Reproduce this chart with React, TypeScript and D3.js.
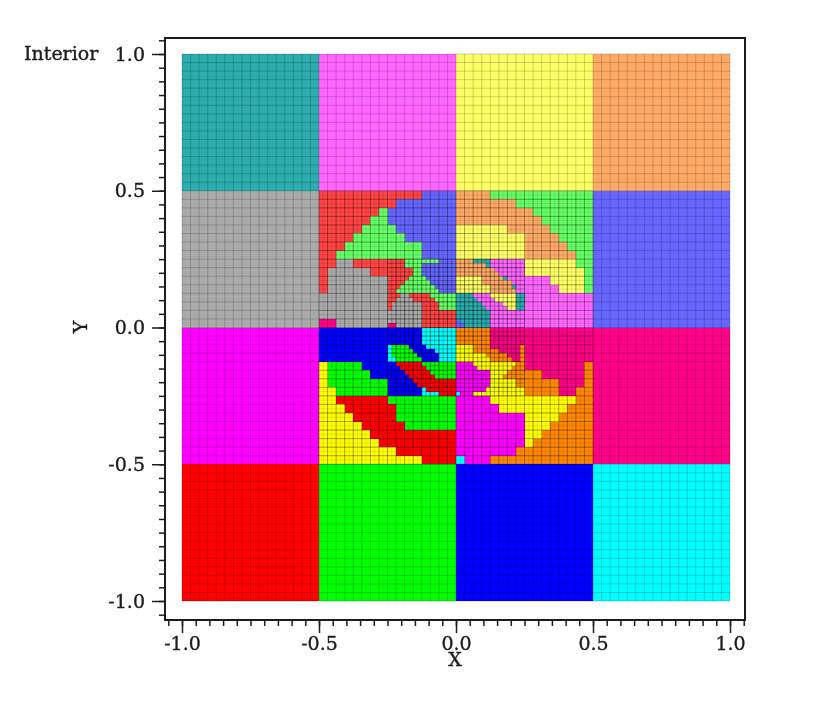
import React, { useEffect, useRef } from 'react';
import * as d3 from 'd3';

// domain colours, light and saturated sets
const palette: Record<string, string> = {
  R: '#ff0000', G: '#00ff00', B: '#0000ff', C: '#00ffff',
  M: '#ff00ff', H: '#ff0088', Y: '#ffff00', O: '#ff8800',
  r: '#ff4444', g: '#66ff66', b: '#6666ff', t: '#2cacac',
  p: '#ff66ff', y: '#ffff66', o: '#ffaa66', a: '#aaaaaa',
};

// big 0.5 x 0.5 blocks, top row first ('.' is the refined middle)
const outerBlocks = ['tpyo', 'a..b', 'M..H', 'RGBC'];

// refined middle, one row per 1/64, run-length coded, top to bottom
const topLeft = [
  'r24b8', 'r24b8', 'r18b14', 'r18b14', 'r14g2b16', 'r14g2b16', 'r12g4b16', 'r12g4b16',
  'r10g8b14', 'r10g8b14', 'r8g12b12', 'r8g12b12', 'r6g18b8', 'r6g18b8', 'r4g20b8', 'r4g20b8',
  'r4a4r12g8b4', 'r4a4r12g4b8', 'r2a10r10g2b8', 'r2a10r10g2b8', 'r2a14r5g4b7', 'r2a14r4g6b6', 'r2a14r3g8b5', 'r2a14r2g10b4',
  'a16r3a2r5g6', 'a16r2a4r5g5', 'a16r1a7r4g4', 'a16r1a7r4g4', 'a24r8', 'a24r8', 'H4a20r8', 'H4a12H2a6r8',
];
const topRight = [
  'o8g24', 'o8g24', 'o14g18', 'o14g18', 'o18g14', 'o18g14', 'o20g12', 'o20g12',
  'y12o10g10', 'y12o10g10', 'y16o8g8', 'y16o8g8', 'y16o10g6', 'y16o10g6', 'y16o12g4', 'y16o12g4',
  'o4t4p8y12g4', 'o7t1p8y12g4', 'o9p7y14g2', 'o10p6y14g2', 'y6o5t1p10y8g2', 'y6o7p9y8g2', 'y8o5t1p10y6g2', 'y8o6p10y6g2',
  't4p4y6t2p16', 't5p4y5t2p16', 't6p5y3t2p16', 't7p5y2t2p16', 't8p24', 't8p24', 'b1t7p24', 'b2t6p24',
];
const bottomLeft = [
  'B24C8', 'B24C8', 'B24C8', 'B24C8', 'B16C1G4B4C7', 'B16C1G5B5C5', 'B16C1G6B5C4', 'B16C2G6B4C4',
  'Y2G8B8R6G8', 'Y2G8B9R6G7', 'Y2G10B8R6G6', 'Y2G10B9R6G5', 'Y2G14B6R10', 'Y2G14B7R9', 'Y4G12B8C1R7', 'Y4G12B8C4R4',
  'Y4R12G16', 'Y4R12G16', 'Y6R12G14', 'Y6R12G14', 'Y8R10G14', 'Y8R10G14', 'Y10R10G12', 'Y10R10G12',
  'Y12R20', 'Y12R20', 'Y14R18', 'Y14R18', 'Y18R14', 'Y18R14', 'Y24R8', 'Y24R8',
];
const bottomRight = [
  'O8H24', 'O8H24', 'O8H24', 'O8H24', 'Y4O4H7O1H16', 'Y4O6H5O1H16', 'Y7O5H3O1H16', 'Y8O5H2O1H16',
  'M4Y10O2H14O2', 'M5Y8O3H14O2', 'M8Y4O8H10O2', 'M8Y3O9H10O2', 'M8Y6O10H6O2', 'M8Y6O10H6O2', 'M7Y9O8H4O4', 'C1M3Y12O8H4O4',
  'M8Y20O4', 'M8Y20O4', 'M10Y16O6', 'M10Y16O6', 'M16Y8O8', 'M16Y8O8', 'M16Y6O10', 'M16Y6O10',
  'M16Y4O12', 'M16Y4O12', 'M16Y2O14', 'M16Y2O14', 'M14O18', 'M14O18', 'C2M6O24', 'C2M6O24',
];

const majorTicks = [-1, -0.5, 0, 0.5, 1];
const tickLabels = ['-1.0', '-0.5', '0.0', '0.5', '1.0'];
const minorTicks = d3.range(-21, 22).map((i) => i * 0.05);

// mesh layers: half-extent, line count per unit, strength
const meshExtents = [1, 0.5, 0.5, 0.25];
const meshDensity = [32, 32, 64, 64];
const meshOpacity = [0.18, 0.12, 0.09, 0.2];

const width = 830;
const height = 728;
const frame = { left: 165, right: 745, top: 38, bottom: 620 };
const fontFamily = '"DejaVu Serif", serif';
const inkColor = '#1c1c1c';

const x = d3.scaleLinear().domain([-1, 1]).range([182, 730]);
const y = d3.scaleLinear().domain([-1, 1]).range([601, 54]);

// 'r24b8' -> [{ key:'r', start:0, len:24 }, { key:'b', start:24, len:8 }]
const parseRuns = (row: string) => {
  let start = 0;
  return Array.from(row.matchAll(/([A-Za-z])(\d+)/g)).map((m) => {
    const run = { key: m[1], start, len: +m[2] };
    start += run.len;
    return run;
  });
};

// glue the four quadrants into 64 rows
const middleRows = [
  ...topLeft.map((row, i) => row + topRight[i]),
  ...bottomLeft.map((row, i) => row + bottomRight[i]),
];

const App = () => {
  const axesRef = useRef<SVGGElement>(null);

  useEffect(() => {
    const g = d3.select(axesRef.current);
    g.selectAll('*').remove();

    const label = (d: number) => tickLabels[majorTicks.indexOf(d)];

    const leftMinor = g.append('g').attr('transform', `translate(${frame.left},0)`)
      .call(d3.axisLeft(y).tickValues(minorTicks).tickSize(6).tickSizeOuter(0).tickFormat(() => ''));
    const leftMajor = g.append('g').attr('transform', `translate(${frame.left},0)`)
      .call(d3.axisLeft(y).tickValues(majorTicks).tickSize(13).tickSizeOuter(0).tickPadding(7).tickFormat(label as any));
    const bottomMinor = g.append('g').attr('transform', `translate(0,${frame.bottom})`)
      .call(d3.axisBottom(x).tickValues(minorTicks).tickSize(6).tickSizeOuter(0).tickFormat(() => ''));
    const bottomMajor = g.append('g').attr('transform', `translate(0,${frame.bottom})`)
      .call(d3.axisBottom(x).tickValues(majorTicks).tickSize(13).tickSizeOuter(0).tickPadding(4).tickFormat(label as any));

    [leftMinor, leftMajor, bottomMinor, bottomMajor].forEach((a) => {
      a.select('.domain').remove();
      a.selectAll('line').attr('stroke', inkColor).attr('stroke-width', 1.5);
      a.selectAll('text')
        .attr('fill', inkColor)
        .attr('stroke', inkColor)
        .attr('stroke-width', 0.35)
        .style('font-family', fontFamily)
        .style('font-size', '19px');
    });
  }, []);

  const cellLeft = (col: number) => x(-0.5 + col / 64);
  const cellTop = (row: number) => y(0.5 - row / 64);

  return (
    <svg width={width} height={height} style={{ position: 'absolute', left: 0, top: 0, background: '#fff' }}>
      <defs>
        {/* the reference is a slightly resampled screenshot */}
        <filter id="soft" x="0" y="0" width={width} height={height} filterUnits="userSpaceOnUse" colorInterpolationFilters="sRGB">
          <feGaussianBlur stdDeviation="0.6" />
        </filter>
      </defs>
      <g filter="url(#soft)">
        <rect width={width} height={height} fill="#fff" />
        <g shapeRendering="crispEdges">
          {outerBlocks.map((row, i) =>
            row.split('').map((key, j) =>
              key === '.' ? null : (
                <rect
                  key={`${i}-${j}`}
                  x={x(-1 + j * 0.5)}
                  y={y(1 - i * 0.5)}
                  width={x(0.5) - x(0)}
                  height={y(0) - y(0.5)}
                  fill={palette[key]}
                />
              ),
            ),
          )}
          {middleRows.map((row, i) =>
            parseRuns(row).map((run) => (
              <rect
                key={`${i}-${run.start}`}
                x={cellLeft(run.start)}
                y={cellTop(i)}
                width={cellLeft(run.start + run.len) - cellLeft(run.start)}
                height={cellTop(i + 1) - cellTop(i)}
                fill={palette[run.key]}
              />
            )),
          )}
        </g>

        {/* mesh */}
        <g stroke="#000" strokeWidth={1}>
          {meshExtents.map((extent, layer) => {
            const n = Math.round(extent * meshDensity[layer]);
            return (
              <g key={layer} strokeOpacity={meshOpacity[layer]}>
                {d3.range(-n, n + 1).map((i) => {
                  const v = i / meshDensity[layer];
                  return (
                    <React.Fragment key={i}>
                      <line x1={x(v)} x2={x(v)} y1={y(-extent)} y2={y(extent)} />
                      <line x1={x(-extent)} x2={x(extent)} y1={y(v)} y2={y(v)} />
                    </React.Fragment>
                  );
                })}
              </g>
            );
          })}
        </g>

        <rect
          x={frame.left}
          y={frame.top}
          width={frame.right - frame.left}
          height={frame.bottom - frame.top}
          fill="none"
          stroke={inkColor}
          strokeWidth={2}
        />
        <g ref={axesRef} />

        <g fill={inkColor} stroke={inkColor} strokeWidth={0.35} fontFamily={fontFamily} fontSize={19}>
          <text x={24} y={60}>Interior</text>
          <text x={455} y={666} textAnchor="middle">X</text>
          <text transform="translate(87,327) rotate(-90)" textAnchor="middle">Y</text>
        </g>
      </g>
    </svg>
  );
};

export default App;
